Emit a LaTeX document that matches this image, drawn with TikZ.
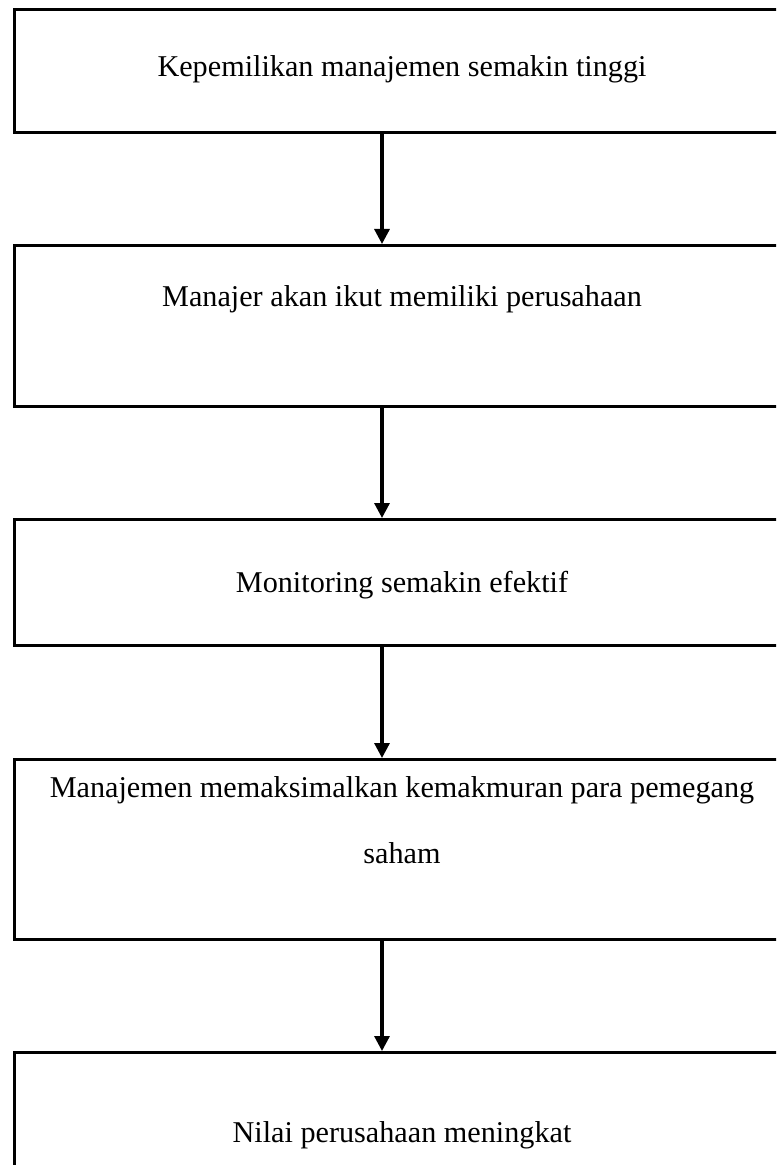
\documentclass[tikz,border=0pt]{standalone}
\usepackage{fontspec}
\setmainfont{Liberation Serif}
\usetikzlibrary{arrows.meta}

\begin{document}
\begin{tikzpicture}[
  x=0.5pt, y=-0.5pt,
  box/.style={draw, line width=1.5pt, anchor=north west, inner sep=0pt, minimum width=389pt, minimum height=#1},
  txt/.style={anchor=base, inner sep=0pt, font=\fontsize{15.1}{20}\selectfont},
  line/.style={-{Triangle[length=7.5pt,width=7.5pt]}, line width=1.6pt}
]
\useasboundingbox (0,0) rectangle (776,1165);
\clip (0,0) rectangle (776,1165);

\node[box=61.5pt] (b1) at (13,8) {};
\node[box=80.5pt] (b2) at (13,244) {};
\node[box=63pt] (b3) at (13,518) {};
\node[box=90pt] (b4) at (13,758) {};
\node[box=67pt] (b5) at (13,1051) {};

\node[txt] (t1) at (402,77) {Kepemilikan manajemen semakin tinggi};
\node[txt] (t2) at (402,307) {Manajer akan ikut memiliki perusahaan};
\node[txt] (t3) at (402,592) {Monitoring semakin efektif};
\node[txt] (t4) at (402,797) {Manajemen memaksimalkan kemakmuran para pemegang};
\node[txt] (t4b) at (402,863) {saham};
\node[txt] (t5) at (402,1142) {Nilai perusahaan meningkat};

\coordinate (ax) at (382,0);
\draw[line] (b1.south -| ax) -- (b2.north -| ax);
\draw[line] (b2.south -| ax) -- (b3.north -| ax);
\draw[line] (b3.south -| ax) -- (b4.north -| ax);
\draw[line] (b4.south -| ax) -- (b5.north -| ax);
\end{tikzpicture}
\end{document}
